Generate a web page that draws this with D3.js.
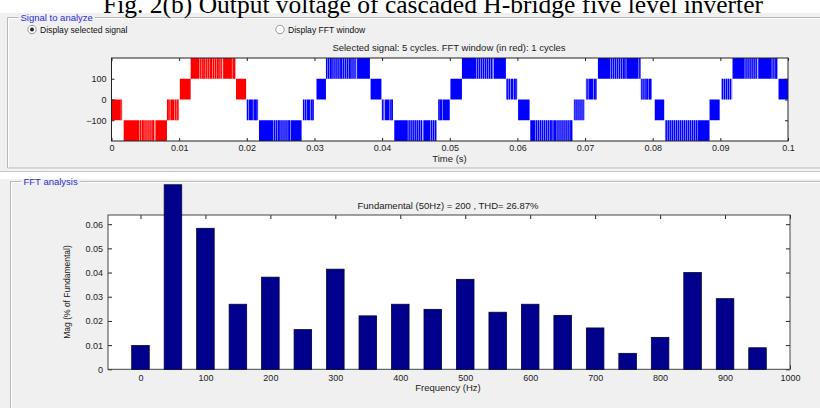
<!DOCTYPE html>
<html>
<head>
<meta charset="utf-8">
<script src="https://cdn.jsdelivr.net/npm/d3@7"></script>
<style>
  body { margin: 0; background: #fff; }
  svg { display: block; }
  text { font-family: "Liberation Sans", Arial, sans-serif; }
</style>
</head>
<body>
<svg id="chart" width="820" height="408"></svg>
<script>
// ---------------- data ----------------
const figureTitle = "Fig. 2(b) Output voltage of cascaded H-bridge five level inverter";
const signalCaption = "Selected signal: 5 cycles. FFT window (in red): 1 cycles";
const fftCaption = "Fundamental (50Hz) = 200 , THD= 26.87%";

// time axis of the selected signal (s) and voltage limits (V)
const timeDomain = [0, 0.1];
const voltDomain = [-200, 200];
const timeTicks = [0, 0.01, 0.02, 0.03, 0.04, 0.05, 0.06, 0.07, 0.08, 0.09, 0.1];
const timeTickLabels = ["0", "0.01", "0.02", "0.03", "0.04", "0.05", "0.06", "0.07", "0.08", "0.09", "0.1"];
const voltTicks = [-100, 0, 100];
const fftWindowEnd = 0.02;   // first cycle is the FFT window

// inverter output: [start s, end s, low V, high V, pulse instants for sparse PWM stretches]
const waveSegments = [
  // cycle 1 (FFT window)
  [0.0000, 0.0013, -100, 0],
  [0.0013, 0.0016, -100, 0, [0.0014]],
  [0.0018, 0.0041, -200, -100],
  [0.0041, 0.0065, -200, -100, [0.0043, 0.0046, 0.0048, 0.0051, 0.0054, 0.0057, 0.0060, 0.0062]],
  [0.0065, 0.0082, -200, -100],
  [0.0082, 0.0087, -100, 0, [0.0083, 0.0085]],
  [0.0087, 0.0093, -100, 0],
  [0.0093, 0.0100, -100, 0, [0.0095, 0.0098]],
  [0.0101, 0.0117, 0, 100],
  [0.0117, 0.0130, 100, 200],
  [0.0130, 0.0165, 100, 200, [0.0132, 0.0135, 0.0137, 0.0140, 0.0143, 0.0146, 0.0148, 0.0151, 0.0154, 0.0157, 0.0159, 0.0162]],
  [0.0165, 0.0178, 100, 200],
  [0.0178, 0.0183, 100, 200, [0.0180, 0.0182]],
  [0.0184, 0.0199, 0, 100],
  // cycle 2
  [0.0200, 0.0203, -100, 0, [0.0201]],
  [0.0203, 0.0209, -100, 0],
  [0.0209, 0.0217, -100, 0, [0.0211, 0.0213, 0.0215]],
  [0.0218, 0.0239, -200, -100],
  [0.0239, 0.0265, -200, -100, [0.0241, 0.0244, 0.0247, 0.0249, 0.0252, 0.0255, 0.0258, 0.0261, 0.0263]],
  [0.0265, 0.0281, -200, -100],
  [0.0283, 0.0289, -100, 0, [0.0284, 0.0287]],
  [0.0289, 0.0294, -100, 0],
  [0.0294, 0.0299, -100, 0, [0.0296, 0.0298]],
  [0.0303, 0.0317, 0, 100],
  [0.0317, 0.0363, 100, 200, [0.0318, 0.0321, 0.0324, 0.0326, 0.0329, 0.0332, 0.0335, 0.0338, 0.0340, 0.0343, 0.0346, 0.0349, 0.0352, 0.0354, 0.0357, 0.0360]],
  [0.0363, 0.0382, 100, 200],
  [0.0383, 0.0399, 0, 100],
  // cycle 3
  [0.0399, 0.0404, -100, 0, [0.0401]],
  [0.0404, 0.0411, -100, 0],
  [0.0411, 0.0416, -100, 0, [0.0413, 0.0415]],
  [0.0418, 0.0438, -200, -100],
  [0.0438, 0.0461, -200, -100, [0.0440, 0.0443, 0.0446, 0.0449, 0.0452, 0.0455, 0.0458]],
  [0.0461, 0.0471, -200, -100],
  [0.0471, 0.0481, -200, -100, [0.0473, 0.0476, 0.0479]],
  [0.0483, 0.0490, -100, 0, [0.0484, 0.0486, 0.0488]],
  [0.0490, 0.0500, -100, 0],
  [0.0501, 0.0518, 0, 100],
  [0.0518, 0.0539, 100, 200],
  [0.0539, 0.0565, 100, 200, [0.0541, 0.0544, 0.0547, 0.0550, 0.0553, 0.0556, 0.0559, 0.0562]],
  [0.0565, 0.0583, 100, 200],
  [0.0583, 0.0590, 0, 100, [0.0585, 0.0588]],
  [0.0590, 0.0594, 0, 100],
  [0.0594, 0.0600, 0, 100, [0.0596, 0.0598]],
  // cycle 4
  [0.0601, 0.0618, -100, 0],
  [0.0619, 0.0626, -200, -100],
  [0.0626, 0.0653, -200, -100, [0.0628, 0.0631, 0.0634, 0.0637, 0.0640, 0.0643, 0.0646, 0.0649, 0.0651]],
  [0.0653, 0.0658, -200, -100],
  [0.0658, 0.0682, -200, -100, [0.0660, 0.0663, 0.0666, 0.0669, 0.0672, 0.0675, 0.0678, 0.0680]],
  [0.0683, 0.0700, -100, 0, [0.0685, 0.0688, 0.0691, 0.0694, 0.0697]],
  [0.0701, 0.0705, 0, 100, [0.0703]],
  [0.0705, 0.0712, 0, 100],
  [0.0712, 0.0717, 0, 100, [0.0714, 0.0716]],
  [0.0719, 0.0737, 100, 200],
  [0.0737, 0.0761, 100, 200, [0.0739, 0.0742, 0.0745, 0.0748, 0.0751, 0.0754, 0.0757, 0.0759]],
  [0.0761, 0.0779, 100, 200],
  [0.0779, 0.0782, 100, 200, [0.0781]],
  [0.0782, 0.0799, 0, 100, [0.0784, 0.0787, 0.0790, 0.0792, 0.0795, 0.0797]],
  // cycle 5
  [0.0803, 0.0817, -100, 0],
  [0.0818, 0.0867, -200, -100, [0.0820, 0.0823, 0.0826, 0.0829, 0.0832, 0.0835, 0.0838, 0.0841, 0.0844, 0.0847, 0.0850, 0.0853, 0.0856, 0.0859, 0.0862, 0.0865]],
  [0.0867, 0.0884, -200, -100],
  [0.0884, 0.0899, -100, 0],
  [0.0902, 0.0918, 0, 100, [0.0903, 0.0906, 0.0909, 0.0912, 0.0915]],
  [0.0918, 0.0936, 100, 200],
  [0.0936, 0.0956, 100, 200, [0.0938, 0.0941, 0.0944, 0.0947, 0.0950, 0.0953]],
  [0.0956, 0.0976, 100, 200],
  [0.0976, 0.0985, 100, 200, [0.0978, 0.0981, 0.0983]],
  [0.0986, 0.1000, 0, 100]
];

// harmonic spectrum
const fftFreq = [0, 50, 100, 150, 200, 250, 300, 350, 400, 450, 500, 550, 600, 650, 700, 750, 800, 850, 900, 950];
const fftMag = [0.0098, 0.0763, 0.0583, 0.0269, 0.0381, 0.0164, 0.0414, 0.0221, 0.0269, 0.0248,
                0.0372, 0.0236, 0.0269, 0.0223, 0.0171, 0.0066, 0.0132, 0.0400, 0.0292, 0.0089];
const freqDomain = [-50, 1000];
const freqTicks = [0, 100, 200, 300, 400, 500, 600, 700, 800, 900, 1000];
const freqTickLabels = ["0", "100", "200", "300", "400", "500", "600", "700", "800", "900", "1000"];
const magDomain = [0, 0.0638];
const magTicks = [0, 0.01, 0.02, 0.03, 0.04, 0.05, 0.06];
const magTickLabels = ["0", "0.01", "0.02", "0.03", "0.04", "0.05", "0.06"];
const barWidthHz = 27;

// ---------------- drawing ----------------
const svg = d3.select("#chart");
const W = 820, H = 408;

svg.append("rect").attr("width", W).attr("height", H).attr("fill", "#fff");
// window panels
svg.append("rect").attr("x", 0).attr("y", 13).attr("width", W).attr("height", 158).attr("fill", "#f0f0f0");
svg.append("line").attr("x1", 0).attr("x2", W).attr("y1", 171.5).attr("y2", 171.5).attr("stroke", "#c4c4c4");
svg.append("rect").attr("x", 0).attr("y", 179).attr("width", W).attr("height", H - 179).attr("fill", "#f0f0f0");

// etched group box with a caption in its top border
function groupBox(x, y, w, h, caption) {
  const g = svg.append("g");
  const label = g.append("text").attr("x", x + 13).attr("y", y + 3.5)
    .attr("font-size", 9.5).attr("fill", "#2b2bd6").text(caption);
  const len = label.node().getComputedTextLength();
  const gapA = x + 11, gapB = x + 15 + len;
  const p = `M${gapA},${y} H${x} V${y + h} H${x + w} V${y} H${gapB}`;
  g.insert("path", "text").attr("d", p).attr("fill", "none").attr("stroke", "#fff")
    .attr("transform", "translate(1,1)");
  g.insert("path", "text").attr("d", p).attr("fill", "none").attr("stroke", "#b9b9b9");
}
groupBox(7.5, 17.5, 900, 150.5, "Signal to analyze");
groupBox(10.5, 181.5, 900, 300, "FFT analysis");

// radio buttons
function radio(cx, cy, on, label) {
  svg.append("circle").attr("cx", cx).attr("cy", cy).attr("r", 4.2)
    .attr("fill", "#fff").attr("stroke", "#8a8a8a").attr("stroke-width", 0.9);
  if (on) svg.append("circle").attr("cx", cx).attr("cy", cy).attr("r", 2).attr("fill", "#222");
  svg.append("text").attr("x", cx + 8).attr("y", cy + 3).attr("font-size", 8.6)
    .attr("fill", "#111").text(label);
}
radio(32, 29.5, true, "Display selected signal");
radio(280, 29.5, false, "Display FFT window");

// figure caption (serif, partly above the window)
svg.append("text").attr("x", 433).attr("y", 13).attr("text-anchor", "middle")
  .style("font-family", "'Liberation Serif', 'Times New Roman', serif")
  .attr("font-size", 25.5).attr("fill", "#000").text(figureTitle);

// ---------- signal plot ----------
const sx = d3.scaleLinear().domain(timeDomain).range([111.5, 788]);
const sy = d3.scaleLinear().domain(voltDomain).range([141, 58]);

svg.append("rect").attr("x", sx(0)).attr("y", sy(200)).attr("width", sx(0.1) - sx(0))
  .attr("height", sy(-200) - sy(200)).attr("fill", "#fff");

const wave = svg.append("g");
const colorOf = d => (d[1] <= fftWindowEnd + 1e-9 ? "#ff0000" : "#0000ff");
waveSegments.forEach(d => {
  const col = colorOf(d);
  const x0 = sx(d[0]), x1 = sx(d[1]);
  const yTop = sy(d[3]), yBot = sy(d[2]);
  if (d[4]) {
    wave.append("rect").attr("x", x0).attr("y", yTop).attr("width", x1 - x0).attr("height", yBot - yTop)
      .attr("fill", col).attr("fill-opacity", 0.3);
    d[4].forEach(t => {
      wave.append("rect").attr("x", sx(t) - 0.7).attr("y", yTop).attr("width", 1.4)
        .attr("height", yBot - yTop).attr("fill", col);
    });
  } else {
    wave.append("rect").attr("x", x0).attr("y", yTop).attr("width", x1 - x0).attr("height", yBot - yTop)
      .attr("fill", col);
  }
});

const axisColor = "#222";
function styleAxis(g) {
  g.select(".domain").remove();
  g.selectAll(".tick line").attr("stroke", axisColor);
  g.selectAll(".tick text").attr("fill", "#222").attr("font-size", 9)
    .style("font-family", "'Liberation Sans', Arial, sans-serif");
}
svg.append("g").attr("transform", `translate(0,${sy(-200)})`)
  .call(d3.axisBottom(sx).tickValues(timeTicks).tickFormat((d, i) => timeTickLabels[i]).tickSize(-3).tickPadding(4))
  .call(styleAxis);
svg.append("g").attr("transform", `translate(0,${sy(200)})`)
  .call(d3.axisTop(sx).tickValues(timeTicks).tickFormat("").tickSize(-3)).call(styleAxis);
svg.append("g").attr("transform", `translate(${sx(0)},0)`)
  .call(d3.axisLeft(sy).tickValues(voltTicks).tickSize(-3).tickPadding(5)).call(styleAxis);
svg.append("g").attr("transform", `translate(${sx(0.1)},0)`)
  .call(d3.axisRight(sy).tickValues(voltTicks).tickFormat("").tickSize(-3)).call(styleAxis);
svg.append("rect").attr("x", sx(0)).attr("y", sy(200)).attr("width", sx(0.1) - sx(0))
  .attr("height", sy(-200) - sy(200)).attr("fill", "none").attr("stroke", axisColor);

svg.append("text").attr("x", 449).attr("y", 50.5).attr("text-anchor", "middle")
  .attr("font-size", 9.5).attr("fill", "#222").text(signalCaption);
svg.append("text").attr("x", 449.5).attr("y", 161.5).attr("text-anchor", "middle")
  .attr("font-size", 9.5).attr("fill", "#222").text("Time (s)");

// ---------- FFT bar plot ----------
const fx = d3.scaleLinear().domain(freqDomain).range([108, 790]);
const fy = d3.scaleLinear().domain(magDomain).range([369.3, 215]);

svg.append("rect").attr("x", fx(-50)).attr("y", fy(magDomain[1])).attr("width", fx(1000) - fx(-50))
  .attr("height", fy(0) - fy(magDomain[1])).attr("fill", "#fff");

svg.append("g").attr("transform", `translate(0,${fy(0)})`)
  .call(d3.axisBottom(fx).tickValues(freqTicks).tickFormat((d, i) => freqTickLabels[i]).tickSize(-4).tickPadding(5))
  .call(styleAxis);
svg.append("g").attr("transform", `translate(0,${fy(magDomain[1])})`)
  .call(d3.axisTop(fx).tickValues(freqTicks).tickFormat("").tickSize(-4)).call(styleAxis);
svg.append("g").attr("transform", `translate(${fx(-50)},0)`)
  .call(d3.axisLeft(fy).tickValues(magTicks).tickFormat((d, i) => magTickLabels[i]).tickSize(-4).tickPadding(5))
  .call(styleAxis);
svg.append("g").attr("transform", `translate(${fx(1000)},0)`)
  .call(d3.axisRight(fy).tickValues(magTicks).tickFormat("").tickSize(-4)).call(styleAxis);
svg.append("rect").attr("x", fx(-50)).attr("y", fy(magDomain[1])).attr("width", fx(1000) - fx(-50))
  .attr("height", fy(0) - fy(magDomain[1])).attr("fill", "none").attr("stroke", "#444");

const bw = fx(barWidthHz) - fx(0);
svg.append("g").selectAll("rect").data(fftFreq).join("rect")
  .attr("x", d => fx(d) - bw / 2)
  .attr("y", (d, i) => fy(fftMag[i]))
  .attr("width", bw)
  .attr("height", (d, i) => fy(0) - fy(fftMag[i]))
  .attr("fill", "#00008c").attr("stroke", "#00003a").attr("stroke-width", 0.8);

svg.append("text").attr("x", 448).attr("y", 208.5).attr("text-anchor", "middle")
  .attr("font-size", 9.5).attr("fill", "#222").text(fftCaption);
svg.append("text").attr("x", 448).attr("y", 390.5).attr("text-anchor", "middle")
  .attr("font-size", 9.5).attr("fill", "#222").text("Frequency (Hz)");
svg.append("text").attr("transform", "translate(70,292) rotate(-90)").attr("text-anchor", "middle")
  .attr("font-size", 8.5).attr("fill", "#222").text("Mag (% of Fundamental)");
</script>
</body>
</html>
